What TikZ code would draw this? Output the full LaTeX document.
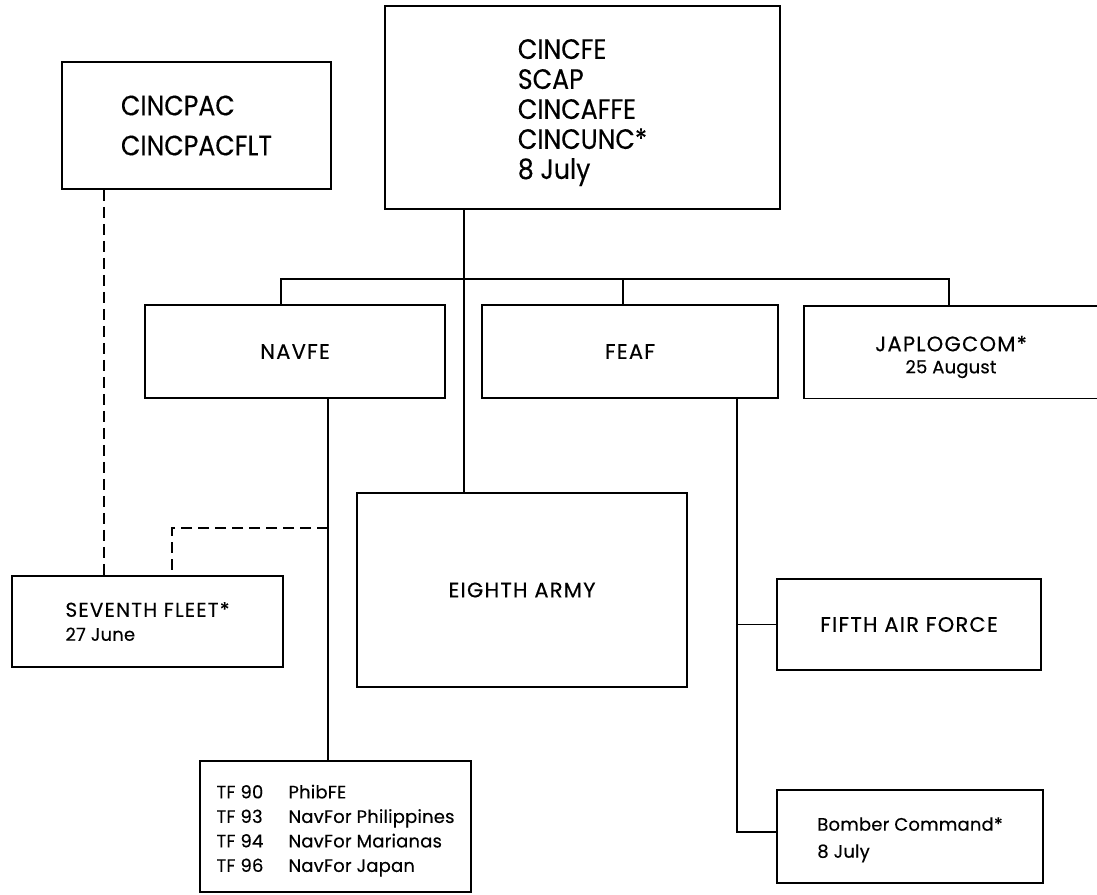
\documentclass[tikz,border=0pt]{standalone}
\usepackage{fontspec}
\setmainfont{Poppins}[FakeBold=0.3]
\newfontfamily\bigfam{Poppins}[FakeStretch=0.9,FakeBold=0.3]
\newfontfamily\midfam{Poppins}[LetterSpace=6,FakeBold=0.3]
\newfontfamily\smallfam{Poppins}[LetterSpace=1,FakeBold=0.3]
\begin{document}
\begin{tikzpicture}[x=1pt,y=-1pt,
  box/.style={draw, line width=1.8pt, inner sep=0pt, align=left},
  conn/.style={line width=1.7pt},
  dconn/.style={line width=1.7pt, dash pattern=on 11pt off 6pt},
  bigf/.style={font=\bigfam\fontsize{28}{30}\selectfont},
  midf/.style={font=\midfam\fontsize{21}{26}\selectfont},
  smallf/.style={font=\smallfam\fontsize{18}{24.5}\selectfont},
]
\useasboundingbox (0,0) rectangle (1097,894);
\fill[white] (0,0) rectangle (1097,894);

% boxes
\node[box, minimum width=269pt, minimum height=127pt, font=\bigfam\fontsize{28}{40}\selectfont] (cincpac) at (196.5,125.5) {CINCPAC\\CINCPACFLT};
\node[box, bigf, minimum width=395pt, minimum height=203pt] (cincfe) at (582.5,107.5) {\rule{0pt}{30pt}CINCFE\\SCAP\\CINCAFFE\\CINCUNC*\\8 July};
\node[box, midf, minimum width=300pt, minimum height=93pt] (navfe) at (295,351.5) {NAVFE};
\node[box, midf, minimum width=296pt, minimum height=93pt] (feaf) at (630,351.5) {FEAF};
\node[box, minimum width=306pt, minimum height=92.5pt] (japlog) at (957,352.25) {};
\node[midf, align=center, inner sep=0pt] (japlogtxt) at (951,357) {JAPLOGCOM*\\[-4pt]{\smallfam\fontsize{18}{22}\selectfont 25 August}};
\node[box, minimum width=271pt, minimum height=91pt, font=\midfam\fontsize{20}{24}\selectfont] (seventh) at (147.5,621.5) {SEVENTH FLEET*\\{\smallfam\fontsize{18}{24}\selectfont 27 June}};
\node[box, midf, minimum width=330pt, minimum height=194pt] (eighth) at (522,590) {EIGHTH ARMY};
\node[box, midf, minimum width=264pt, minimum height=91pt] (fifth) at (909,624.5) {FIFTH AIR FORCE};
\node[box, minimum width=266pt, minimum height=93pt, font=\smallfam\fontsize{18}{27}\selectfont] (bomber) at (910,836.5) {\rule{0pt}{20pt}Bomber Command*\\8 July};
\node[box, smallf, minimum width=271pt, minimum height=131pt] (tf) at (335.5,826.5) {%
\rule{0pt}{22pt}\makebox[72pt][l]{TF 90}PhibFE\\
\makebox[72pt][l]{TF 93}NavFor Philippines\\
\makebox[72pt][l]{TF 94}NavFor Marianas\\
\makebox[72pt][l]{TF 96}NavFor Japan};

% coordinates
\coordinate (trunk) at (464,279);
\coordinate (busL) at (281,279);
\coordinate (busF) at (623,279);
\coordinate (busR) at (949,279);
\coordinate (navx) at (328,528);
\coordinate (dk) at (172,528);
\coordinate (pacx) at (104,400);
\coordinate (feafx) at (737,832);

% connectors
\draw[conn] (trunk |- cincfe.south) -- (trunk |- eighth.north);
\draw[conn] (busL |- navfe.north) -- (busL) -- (busR) -- (busR |- japlog.north);
\draw[conn] (busF) -- (busF |- feaf.north);
\draw[conn] (navx |- navfe.south) -- (navx |- tf.north);
\draw[dconn] (navx) -- (dk) -- (dk |- seventh.north);
\draw[dconn] (pacx |- cincpac.south) -- (pacx |- seventh.north);
\draw[conn] (feafx |- feaf.south) -- (feafx) -- (feafx -| bomber.west);
\draw[conn] (feafx |- fifth.west) -- (fifth.west);
\end{tikzpicture}
\end{document}
